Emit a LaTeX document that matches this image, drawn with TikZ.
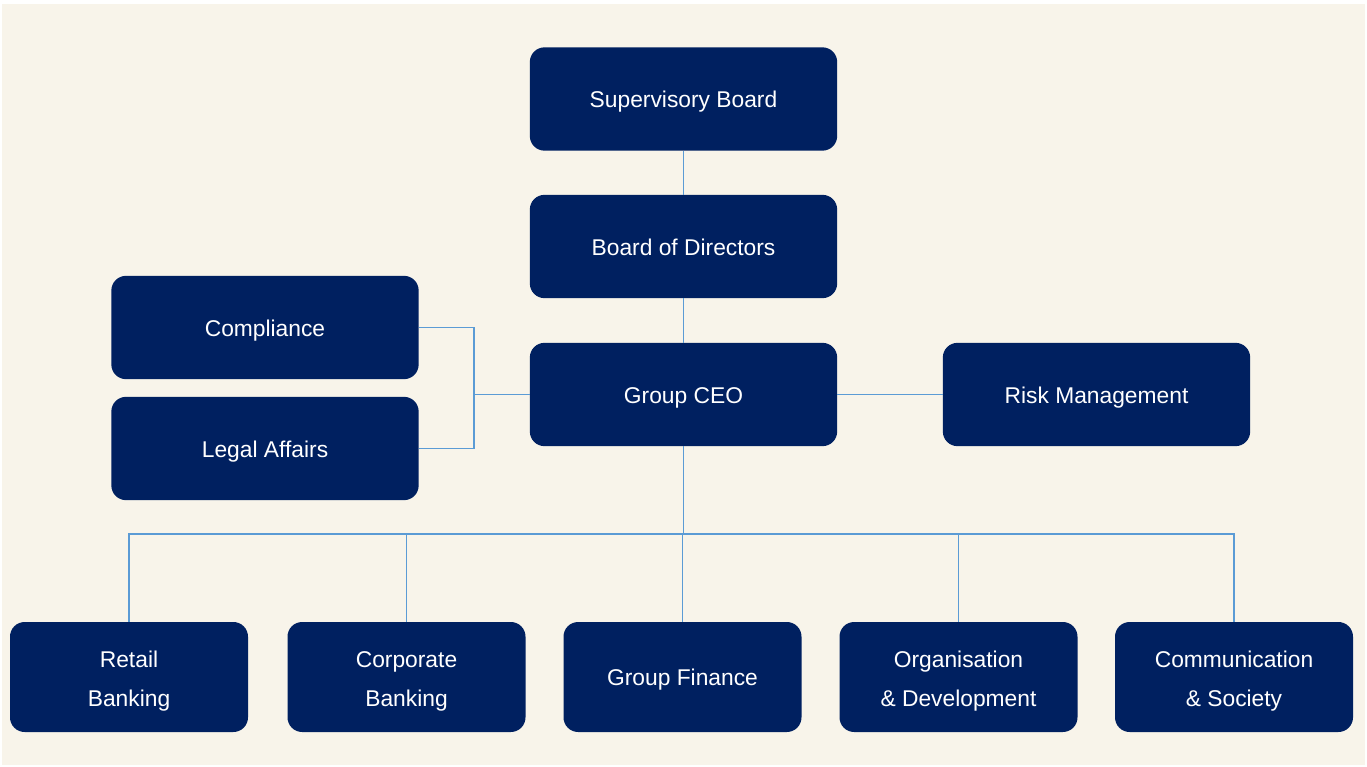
\documentclass[tikz,border=0pt]{standalone}
\usepackage{fontspec}
\setmainfont{Liberation Sans}
\definecolor{boxnavy}{HTML}{002060}
\definecolor{linkblue}{HTML}{5B9BD5}
\definecolor{paper}{HTML}{F8F4EA}

\begin{document}
\begin{tikzpicture}[x=0.75pt,y=-0.75pt,
  unit/.style={fill=boxnavy, text=white, rounded corners=11pt, inner sep=0pt,
    minimum width=230.5pt, minimum height=77.5pt, text height=13.3pt, text depth=0pt,
    font=\fontsize{17.1}{29.25}\selectfont},
  dept/.style={unit, minimum width=178.5pt, minimum height=82.5pt, align=center},
  twoline/.style={dept, text height=44.3pt},
  link/.style={draw=linkblue, line width=1.1pt}]
% page and paper
\useasboundingbox (0,0) rectangle (1367,767);
\fill [white] (0,0) rectangle (1367,767);
\fill [paper] (2,4) rectangle (1365,765);
% upper part
\node [unit] (sup) at (683.5,99) {Supervisory Board};
\node [unit] (bod) at (683.5,246.5) {Board of Directors};
\node [unit] (ceo) at (683.5,394.5) {Group CEO};
\node [unit] (comp) at (265,327.5) {Compliance};
\node [unit] (legal) at (265,448.5) {Legal Affairs};
\node [unit] (risk) at (1096.5,394.5) {Risk Management};
% departments
\node [twoline] (retail) at (129,677) {Retail\\Banking};
\node [twoline] (corp) at (406.5,677) {Corporate\\Banking};
\node [dept] (fin) at (682.5,677) {Group Finance};
\node [twoline] (org) at (958.5,677) {Organisation\\\& Development};
\node [twoline] (comm) at (1234,677) {Communication\\\& Society};
% connectors
\coordinate (staff) at (474,394.5);
\coordinate (bus) at (683.5,534);
\draw [link] (sup) -- (bod);
\draw [link] (bod) -- (ceo);
\draw [link] (ceo) -- (risk);
\draw [link] (ceo.west) -- (staff);
\draw [link] (comp.east) -| (staff) |- (legal.east);
\draw [link] (ceo) -- (bus);
\foreach \d in {retail,corp,fin,org,comm}
  \draw [link] (bus) -| (\d.north);
\end{tikzpicture}
\end{document}
